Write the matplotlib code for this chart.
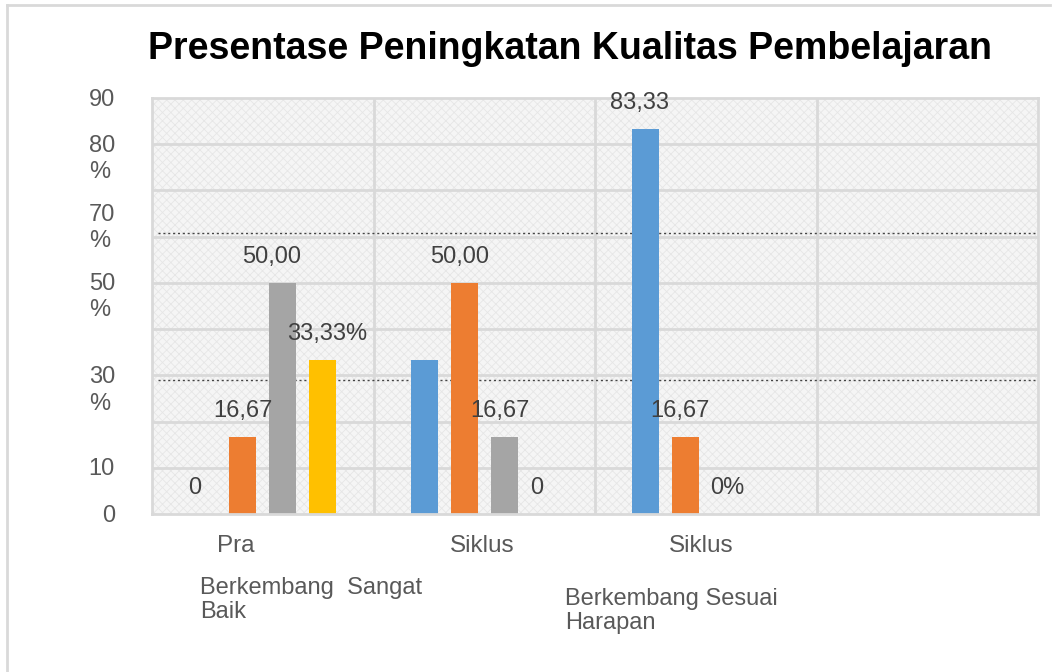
import matplotlib.pyplot as plt
import matplotlib.patches as mpatches
from matplotlib.lines import Line2D
import numpy as np

plt.rcParams['font.family'] = ['Liberation Sans', 'DejaVu Sans']
plt.rcParams['hatch.linewidth'] = 0.6

title = "Presentase Peningkatan Kualitas Pembelajaran"
categories = ["Pra", "Siklus", "Siklus", ""]
blue = [0, 33.33, 83.33, 0]
orange = [16.67, 50.00, 16.67, 0]
gray = [50.00, 16.67, 0, 0]
yellow = [33.33, 0, 0, 0]
series = [blue, orange, gray, yellow]
colors = ['#5B9BD5', '#ED7D31', '#A5A5A5', '#FFC000']

# label text per series/category (None = no label)
blue_lbl = ["0", None, "83,33", None]
orange_lbl = ["16,67", "50,00", "16,67", None]
gray_lbl = ["50,00", "16,67", "0%", None]
yellow_lbl = ["33,33%", "0", None, None]
labels = [blue_lbl, orange_lbl, gray_lbl, yellow_lbl]
# small horizontal nudges of labels (pixels)
label_dx = [[-8, 0, -6, 0], [0, -5, -6, 0], [-11, -4, 2, 0], [5, -7, 0, 0]]

ytick_text = ["90", "80\n%", "70\n%", "50\n%", "30\n%", "10", "0"]
ytick_at = [90, 80, 65.1, 50.2, 30, 10.2, 0]

legend_a = "Berkembang  Sangat\nBaik"
legend_b = "Berkembang Sesuai\nHarapan"

W, H = 1055, 672
fig = plt.figure(figsize=(W / 100, H / 100), dpi=100)
ax = fig.add_axes([152 / W, 1 - 514 / H, (1038 - 152) / W, (514 - 98) / H])

ax.set_xlim(-0.5, 3.5)
ax.set_ylim(0, 90)

# textured background
bg = mpatches.Rectangle((0, 0), 1, 1, transform=ax.transAxes, facecolor='#f5f5f5',
                        edgecolor='#e6e6e6', hatch='xxxx', linewidth=0, zorder=0)
ax.add_patch(bg)

for v in range(10, 90, 10):
    ax.axhline(v, color='#d9d9d9', lw=2, zorder=1)
for v in [0.5, 1.5, 2.5]:
    ax.axvline(v, color='#d9d9d9', lw=2, zorder=1)
for v in [60.8, 29.0]:
    ax.axhline(v, xmin=0.007, xmax=0.997, color='#444444', lw=1, ls=(0, (1.5, 2)), zorder=1.5)

for s in ax.spines.values():
    s.set_color('#d9d9d9')
    s.set_linewidth(2)
ax.set_xticks([])
ax.set_yticks([])

x = np.arange(len(categories))
step = 40 / 222
bw = 27 / 222
for i, vals in enumerate(series):
    pos = x + (i - 1.5) * step
    ax.bar(pos, vals, width=bw, color=colors[i], zorder=2)
    for j, lab in enumerate(labels[i]):
        if lab is None:
            continue
        ax.annotate(lab, (pos[j], vals[j]), xytext=(label_dx[i][j] * 0.72, 26 * 0.72),
                    textcoords='offset points', ha='center', va='center',
                    fontsize=17, color='#404040', zorder=3)

for t, v in zip(ytick_text, ytick_at):
    ax.annotate(t, (0, v), xycoords=('axes fraction', 'data'),
                xytext=(-37 * 0.72, 9 * 0.72), textcoords='offset points',
                ha='right', va='top', multialignment='left', linespacing=1.25,
                fontsize=17, color='#595959')

cat_shift = [-0.12, -0.01, -0.02, 0]
for xi, c, d in zip(x, categories, cat_shift):
    if c:
        ax.annotate(c, (xi + d, 0), xytext=(0, -32 * 0.72), textcoords='offset points',
                    ha='center', va='center', fontsize=17.5, color='#595959')

fig.text(200 / W, 1 - 577 / H, legend_a, ha='left', va='top', fontsize=17,
         color='#595959', linespacing=1.12)
fig.text(565 / W, 1 - 588 / H, legend_b, ha='left', va='top', fontsize=17,
         color='#595959', linespacing=1.12)

fig.text(570 / W, 1 - 49 / H, title, ha='center', va='center', fontsize=27,
         fontweight='bold', color='black')

# outer frame (top and left only)
fig.add_artist(Line2D([7 / W, 1050 / W], [1 - 5 / H, 1 - 5 / H], color='#d9d9d9', lw=2))
fig.add_artist(Line2D([7 / W, 7 / W], [0, 1 - 5 / H], color='#d9d9d9', lw=2))

fig.savefig('out.png', dpi=100)
